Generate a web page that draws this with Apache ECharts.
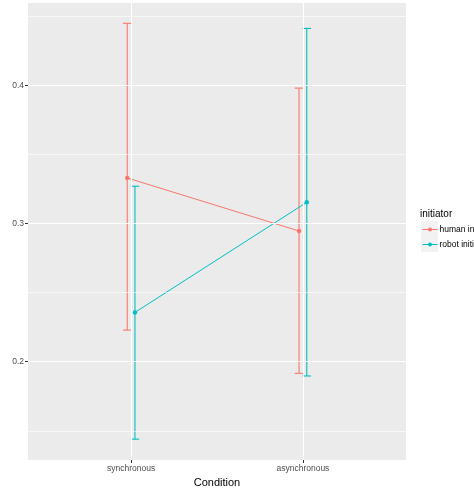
<!DOCTYPE html>
<html>
<head>
<meta charset="utf-8">
<script src="https://cdn.jsdelivr.net/npm/echarts@6/dist/echarts.min.js"></script>
<style>
html,body{margin:0;padding:0;background:#fff;}
#chart{width:474px;height:490px;}
</style>
</head>
<body>
<div id="chart"></div>
<script>
// ---- data ----
const categories = ['synchronous', 'asynchronous'];
const seriesNames = ['human initiator', 'robot initiator'];
const humanMean = [0.333, 0.2946];
const humanLow = [0.2229, 0.1916];
const humanHigh = [0.4449, 0.398];
const robotMean = [0.2357, 0.3154];
const robotLow = [0.144, 0.1897];
const robotHigh = [0.327, 0.4412];
const yTicks = [0.2, 0.3, 0.4];
const yMinorTicks = [0.15, 0.25, 0.35, 0.45];
const legendTitle = 'initiator';
const xTitle = 'Condition';
const yTitle = 'Dictator Game offer';

// ---- layout / style ----
const colors = ['#F8766D', '#00BFC4'];
const dodge = 0.0225;
const capWidth = 0.05;
const xPos = categories.map((c, i) => i + 1);

function pts(mean, off) { return mean.map((v, i) => [xPos[i] + off, v]); }
function bars(low, high, off) { return low.map((v, i) => [xPos[i] + off, v, high[i]]); }

function errRender(color) {
  return function (params, api) {
    const x = api.value(0), lo = api.value(1), hi = api.value(2);
    const pLo = api.coord([x, lo]), pHi = api.coord([x, hi]);
    const half = api.size([capWidth, 0])[0] / 2;
    const style = { stroke: color, lineWidth: 1.1 };
    return {
      type: 'group',
      children: [
        { type: 'line', shape: { x1: pLo[0], y1: pLo[1], x2: pHi[0], y2: pHi[1] }, style },
        { type: 'line', shape: { x1: pLo[0] - half, y1: pLo[1], x2: pLo[0] + half, y2: pLo[1] }, style },
        { type: 'line', shape: { x1: pHi[0] - half, y1: pHi[1], x2: pHi[0] + half, y2: pHi[1] }, style }
      ]
    };
  };
}

const gridLines = [];
yTicks.forEach(v => gridLines.push({ yAxis: v, lineStyle: { color: '#fff', width: 1.1, type: 'solid' } }));
yMinorTicks.forEach(v => gridLines.push({ yAxis: v, lineStyle: { color: '#fff', width: 0.6, type: 'solid' } }));
xPos.forEach(v => gridLines.push({ xAxis: v, lineStyle: { color: '#fff', width: 1.1, type: 'solid' } }));

const chart = echarts.init(document.getElementById('chart'), null, { renderer: 'canvas' });
const option = {
  animation: false,
  backgroundColor: '#fff',
  textStyle: { fontFamily: 'Liberation Sans, Arial, sans-serif' },
  grid: { left: 28, top: 3, right: 68, bottom: 30, show: true, backgroundColor: '#EBEBEB', borderWidth: 0, containLabel: false, outerBoundsMode: 'none' },
  xAxis: {
    type: 'value', min: 0.4, max: 2.6,
    name: xTitle, nameLocation: 'middle', nameGap: 17,
    nameTextStyle: { color: '#000', fontSize: 11 },
    axisLine: { show: false },
    axisTick: { show: true, customValues: xPos, length: 3, lineStyle: { color: '#333' } },
    axisLabel: { customValues: xPos, formatter: v => categories[Math.round(v) - 1] || '', color: '#4D4D4D', fontSize: 8.5, margin: 4 },
    splitLine: { show: false }
  },
  yAxis: {
    type: 'value', min: 0.1289, max: 0.4596,
    name: yTitle, nameLocation: 'middle', nameGap: 16, nameRotate: 90,
    nameTextStyle: { color: '#000', fontSize: 11 },
    axisLine: { show: false },
    axisTick: { show: true, customValues: yTicks, length: 3, lineStyle: { color: '#333' } },
    axisLabel: { customValues: yTicks, formatter: v => v.toFixed(1), color: '#4D4D4D', fontSize: 8.5, margin: 4 },
    splitLine: { show: false }
  },
  legend: {
    left: 422, top: 225, orient: 'vertical', padding: 0,
    itemWidth: 15, itemHeight: 5, itemGap: 6,
    lineStyle: { width: 1 },
    textStyle: { color: '#000', fontSize: 8.5, padding: [0, 0, 0, -3] },
    data: seriesNames.map(n => ({ name: n }))
  },
  graphic: [
    { type: 'rect', left: 421, top: 221, shape: { width: 17, height: 31 }, style: { fill: '#F2F2F2' }, z: -1 },
    { type: 'text', left: 420, top: 209, style: { text: legendTitle, fill: '#000', fontSize: 10, fontFamily: 'Liberation Sans, Arial, sans-serif' } }
  ],
  series: [
    {
      type: 'line', name: seriesNames[0], data: pts(humanMean, -dodge), z: 4,
      color: colors[0], symbol: 'circle', symbolSize: 4.5, lineStyle: { width: 1, color: colors[0] },
      itemStyle: { color: colors[0] }
    },
    {
      type: 'line', name: seriesNames[1], data: pts(robotMean, dodge), z: 4,
      color: colors[1], symbol: 'circle', symbolSize: 4.5, lineStyle: { width: 1, color: colors[1] },
      itemStyle: { color: colors[1] }
    },
    {
      type: 'line', name: '__grid', data: [], silent: true, z: 1,
      markLine: { silent: true, symbol: 'none', label: { show: false }, animation: false, data: gridLines }
    },
    {
      type: 'custom', name: seriesNames[0], renderItem: errRender(colors[0]),
      data: bars(humanLow, humanHigh, -dodge), z: 3, encode: { x: 0, y: [1, 2] }, itemStyle: { color: colors[0] }
    },
    {
      type: 'custom', name: seriesNames[1], renderItem: errRender(colors[1]),
      data: bars(robotLow, robotHigh, dodge), z: 3, encode: { x: 0, y: [1, 2] }, itemStyle: { color: colors[1] }
    }
  ]
};
chart.setOption(option);
</script>
</body>
</html>
